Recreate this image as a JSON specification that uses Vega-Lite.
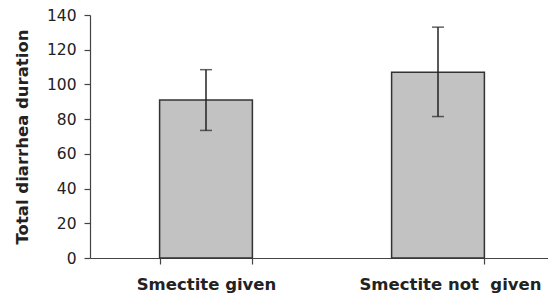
{
  "$schema": "https://vega.github.io/schema/vega-lite/v6.json",
  "autosize": {"type": "none"},
  "padding": {"left": 90, "top": 15, "right": 0, "bottom": 35},
  "width": 458,
  "height": 243,
  "background": "white",
  "data": {
    "values": [
      {"group": "Smectite given", "value": 91, "lo": 73.5, "hi": 108.5},
      {"group": "Smectite not\u00a0 given", "value": 107, "lo": 81.5, "hi": 133}
    ]
  },
  "encoding": {
    "x": {
      "field": "group",
      "type": "nominal",
      "sort": null,
      "scale": {"paddingInner": 0.6, "paddingOuter": 0.3, "range": [0, 464]},
      "axis": {
        "title": null,
        "labelAngle": 0,
        "labelLimit": 0,
        "labelOverlap": false,
        "tickBand": "extent",
        "tickSize": 6,
        "labelPadding": 12,
        "labelFont": "DejaVu Sans",
        "labelFontWeight": "bold",
        "labelFontSize": 16.5,
        "labelColor": "#222",
        "domainColor": "#444",
        "tickColor": "#444",
        "domainWidth": 1.2,
        "tickWidth": 1.2,
        "labelOffset": {"condition": {"test": "datum.value != 'Smectite given'", "value": 12}, "value": 0}
      }
    }
  },
  "layer": [
    {
      "mark": {"type": "bar", "fill": "#c2c2c2", "stroke": "#333", "strokeWidth": 1.5},
      "encoding": {
        "y": {
          "field": "value",
          "type": "quantitative",
          "scale": {"domain": [0, 140], "nice": false},
          "axis": {"title": "Total diarrhea duration", "values": [0, 20, 40, 60, 80, 100, 120, 140]}
        }
      }
    },
    {
      "mark": {"type": "rule", "color": "#222", "strokeWidth": 1.5},
      "encoding": {
        "y": {"field": "lo", "type": "quantitative", "axis": {"title": "Total diarrhea duration", "values": [0, 20, 40, 60, 80, 100, 120, 140]}},
        "y2": {"field": "hi"}
      }
    },
    {
      "mark": {"type": "tick", "color": "#222", "size": 12, "thickness": 1.5},
      "encoding": {"y": {"field": "hi", "type": "quantitative", "axis": {"title": "Total diarrhea duration", "values": [0, 20, 40, 60, 80, 100, 120, 140]}}}
    },
    {
      "mark": {"type": "tick", "color": "#222", "size": 12, "thickness": 1.5},
      "encoding": {"y": {"field": "lo", "type": "quantitative", "axis": {"title": "Total diarrhea duration", "values": [0, 20, 40, 60, 80, 100, 120, 140]}}}
    }
  ],
  "config": {
    "view": {"stroke": null},
    "axisY": {
      "labelOverlap": false,
      "grid": false,
      "tickSize": 6,
      "labelPadding": 8,
      "labelFont": "DejaVu Sans",
      "labelFontSize": 15.5,
      "labelColor": "#222",
      "titleFont": "DejaVu Sans",
      "titleFontWeight": "bold",
      "titleFontSize": 16.5,
      "titleColor": "#222",
      "titlePadding": 16,
      "domainColor": "#444",
      "tickColor": "#444",
      "domainWidth": 1.2,
      "tickWidth": 1.2
    }
  }
}
